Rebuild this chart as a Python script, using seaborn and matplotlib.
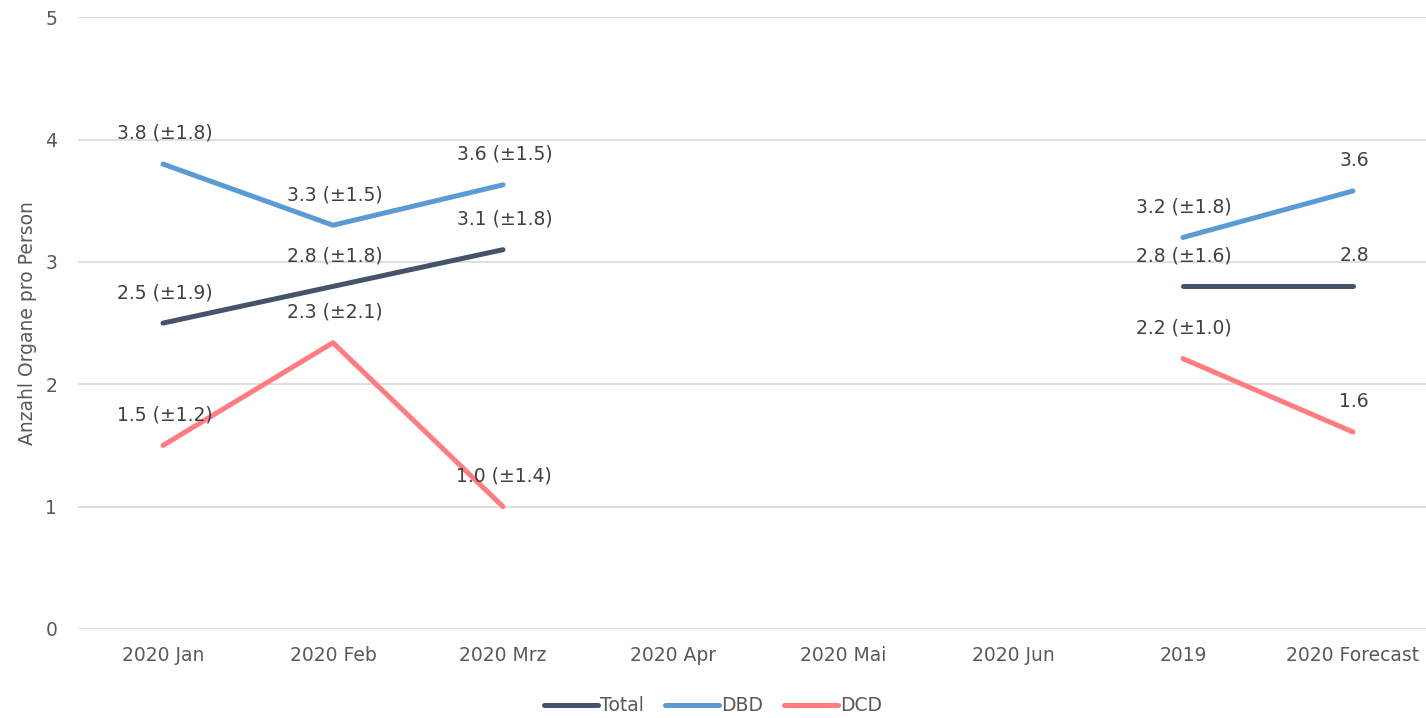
import numpy as np
import pandas as pd
import matplotlib
matplotlib.use("Agg")
import matplotlib.pyplot as plt
import seaborn as sns

nan = np.nan
categories = ["2020 Jan", "2020 Feb", "2020 Mrz", "2020 Apr", "2020 Mai", "2020 Jun", "2019", "2020 Forecast"]
total = [2.5, 2.8, 3.1, nan, nan, nan, 2.8, 2.8]
dbd = [3.8, 3.3, 3.63, nan, nan, nan, 3.2, 3.58]
dcd = [1.5, 2.34, 1.0, nan, nan, nan, 2.21, 1.61]
total_sd = [1.9, 1.8, 1.8, nan, nan, nan, 1.6, nan]
dbd_sd = [1.8, 1.5, 1.5, nan, nan, nan, 1.8, nan]
dcd_sd = [1.2, 2.1, 1.4, nan, nan, nan, 1.0, nan]
series = ["Total", "DBD", "DCD"]
colors = {"Total": "#44546A", "DBD": "#5B9BD5", "DCD": "#FF7C80"}

rows = []
for name, vals, sds in [("Total", total, total_sd), ("DBD", dbd, dbd_sd), ("DCD", dcd, dcd_sd)]:
    seg = 0
    for i, (v, s) in enumerate(zip(vals, sds)):
        if np.isnan(v):
            seg += 1
            continue
        rows.append({"x": i, "wert": v, "sd": s, "serie": name, "seg": seg})
df = pd.DataFrame(rows)

sns.set_style("white")
plt.rcParams["font.family"] = ["DejaVu Sans"]
txt = "#595959"
fs = 13.5

fig = plt.figure(figsize=(14.26, 7.18), dpi=100)
ax = fig.add_axes([0.0547, 0.124, 0.9453, 0.852])

sns.lineplot(data=df, x="x", y="wert", hue="serie", hue_order=series, units="seg",
             estimator=None, palette=colors, linewidth=3.6, ax=ax, legend=False,
             solid_capstyle="round")

for _, r in df.iterrows():
    if np.isnan(r["sd"]):
        lab = f"{r['wert']:.1f}"
    else:
        lab = f"{r['wert']:.1f} (±{r['sd']:.1f})"
    ax.annotate(lab, (r["x"], r["wert"]), xytext=(1, 22), textcoords="offset points",
                ha="center", va="center", fontsize=fs, color="#404040")

ax.set_xlim(-0.5, 7.43)
ax.set_ylim(0, 5)
ax.set_xticks(range(len(categories)))
ax.set_xticklabels(categories)
ax.set_yticks(range(6))
ax.tick_params(axis="both", length=0, labelsize=fs, labelcolor=txt)
ax.tick_params(axis="y", pad=15)
ax.tick_params(axis="x", pad=12)
ax.grid(axis="y", color="#d9d9d9", linewidth=1.2)
ax.set_axisbelow(True)
sns.despine(ax=ax, left=True, bottom=True)
ax.set_xlabel("")
ax.set_ylabel("Anzahl Organe pro Person", fontsize=fs, color=txt, labelpad=6)

handles = [plt.Line2D([], [], color=colors[s], linewidth=3.6, solid_capstyle="round") for s in series]
fig.legend(handles, series, loc="center", bbox_to_anchor=(0.5, 0.017), ncol=3, frameon=False,
           fontsize=fs, labelcolor=txt, handlelength=2.9, handletextpad=0.1, columnspacing=1.1)

fig.savefig("out.png", dpi=100)
